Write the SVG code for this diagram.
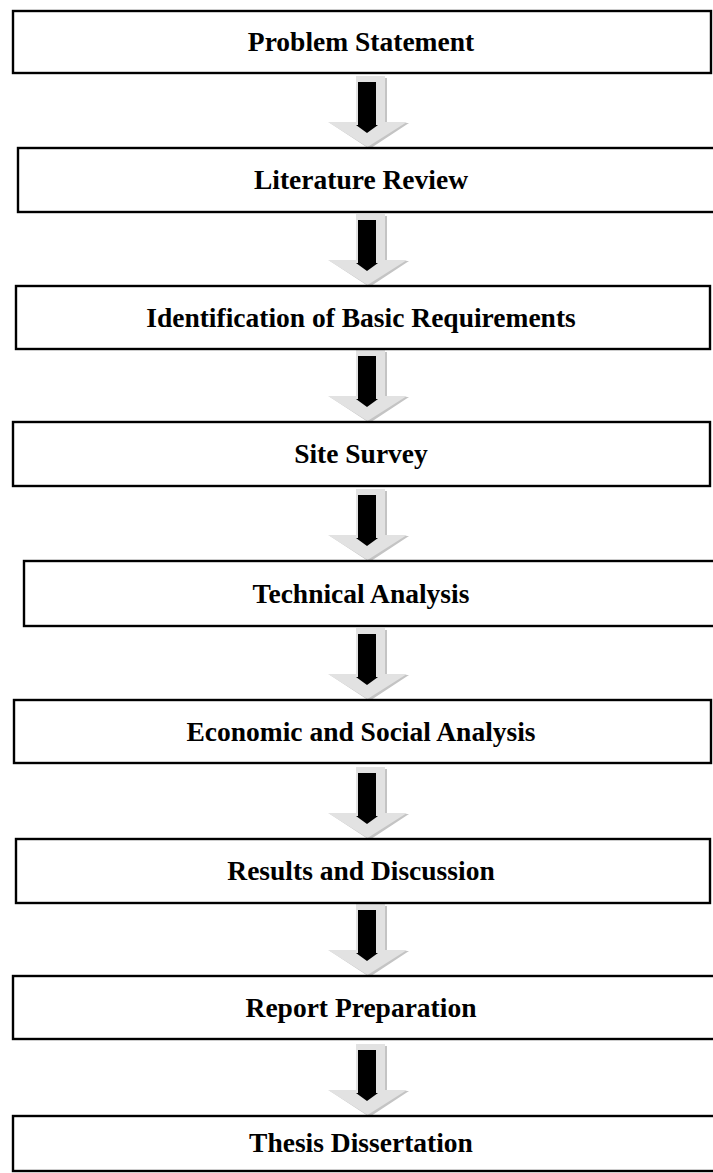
<svg xmlns="http://www.w3.org/2000/svg" width="713" height="1173" viewBox="0 0 713 1173">
<style>
.box{fill:#fff;stroke:#000;stroke-width:2.4}
.lbl{font-family:"Liberation Serif","Times New Roman",serif;font-weight:bold;font-size:27.5px;text-anchor:middle;fill:#000}
.gs{fill:#c4c4c4}
.g{fill:#e2e2e2}
.k{fill:#000}
</style>
<defs>
<g id="arr">
<polygon class="gs" points="358,-70 387,-70 387,-25 409,-25 369.5,1 330,-25 358,-25"/>
<polygon class="g" points="356,-72 385,-72 385,-26 407,-26 367.5,-1 328,-26 356,-26"/>
<polygon class="k" points="358,-66 376,-66 376,-23 378,-23 367,-15 356,-23 358,-23"/>
</g>
</defs>
<rect x="0" y="0" width="713" height="1173" fill="#fff"/>
<g id="connectors">
<use href="#arr" transform="translate(0,148)"/>
<use href="#arr" transform="translate(0,286)"/>
<use href="#arr" transform="translate(0,422)"/>
<use href="#arr" transform="translate(0,561)"/>
<use href="#arr" transform="translate(0,700)"/>
<use href="#arr" transform="translate(0,839)"/>
<use href="#arr" transform="translate(0,976)"/>
<use href="#arr" transform="translate(0,1116)"/>
</g>
<g id="n1"><rect class="box" x="13" y="11" width="698" height="62"/><text class="lbl" x="361" y="51">Problem Statement</text></g>
<g id="n2"><rect class="box" x="18" y="148" width="710" height="64"/><text class="lbl" x="361" y="189">Literature Review</text></g>
<g id="n3"><rect class="box" x="16" y="286" width="694" height="63"/><text class="lbl" x="361" y="327">Identification of Basic Requirements</text></g>
<g id="n4"><rect class="box" x="13" y="422" width="697" height="64"/><text class="lbl" x="361" y="463">Site Survey</text></g>
<g id="n5"><rect class="box" x="24" y="561" width="710" height="65"/><text class="lbl" x="361" y="603">Technical Analysis</text></g>
<g id="n6"><rect class="box" x="14" y="700" width="697" height="63"/><text class="lbl" x="361" y="741">Economic and Social Analysis</text></g>
<g id="n7"><rect class="box" x="16" y="839" width="694" height="64"/><text class="lbl" x="361" y="880">Results and Discussion</text></g>
<g id="n8"><rect class="box" x="13" y="976" width="710" height="63"/><text class="lbl" x="361" y="1017">Report Preparation</text></g>
<g id="n9"><rect class="box" x="13" y="1116" width="710" height="55"/><text class="lbl" x="361" y="1152">Thesis Dissertation</text></g>
</svg>
